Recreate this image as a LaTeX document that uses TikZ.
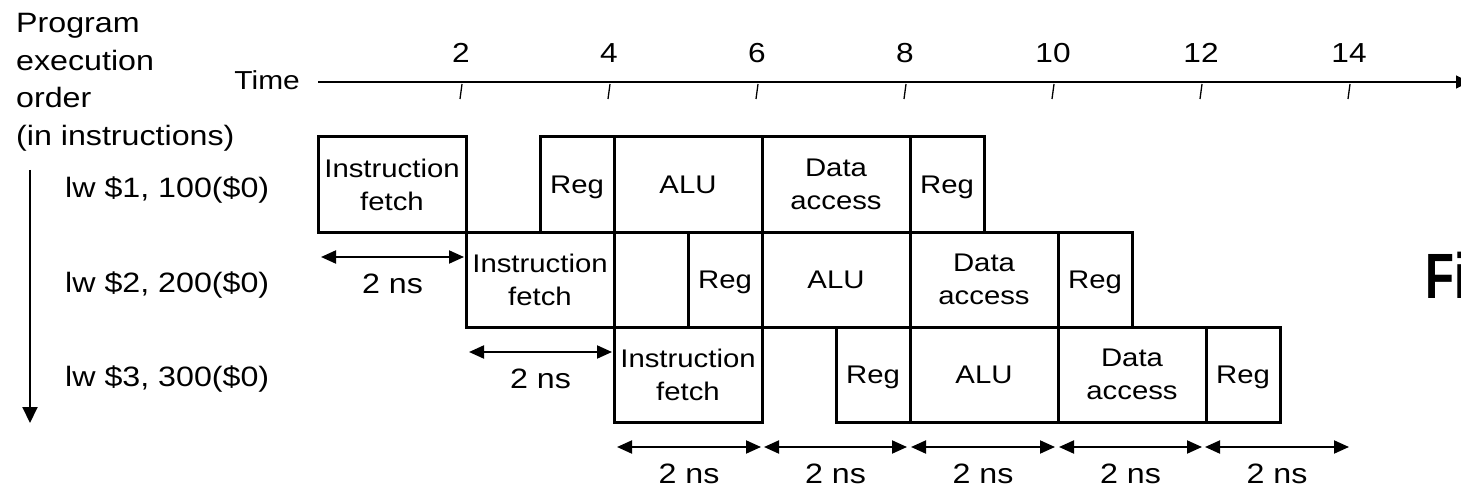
\documentclass[tikz,border=0pt]{standalone}
\usepackage{fontspec}
\setmainfont{Liberation Sans}[FakeStretch=1.15]
\newfontfamily\capfont{Liberation Sans}[FakeStretch=0.74]
\usetikzlibrary{arrows.meta,calc}

\begin{document}
\begin{tikzpicture}[x=1pt,y=-1pt,
  stagebox/.style={draw, line width=3pt, minimum height=95pt, inner sep=0pt,
    outer sep=0pt, anchor=north west, align=center, text depth=0pt,
    font=\fontsize{25.5}{33}\selectfont},
  label/.style={inner sep=0pt, font=\fontsize{28}{37.7}\selectfont},
  ticklabel/.style={inner sep=0pt, anchor=base, font=\fontsize{27.5}{30}\selectfont},
  dimarrow/.style={line width=2pt, {Triangle[length=15pt,width=13pt]}-{Triangle[length=15pt,width=13pt]}},
  nslabel/.style={midway, anchor=base, yshift=-36pt, inner sep=0pt,
    font=\fontsize{28}{32}\selectfont}]

\useasboundingbox (0,0) rectangle (1461,489);
\clip (0,0) rectangle (1461,489);

% Left-hand legend and instruction order
\node[label, anchor=north west, align=left] (order) at (16,13)
  {Program\\execution\\order\\(in instructions)};
\node[label, anchor=base west] (ins1) at (65,197) {lw \$1, 100(\$0)};
\node[label, anchor=base west] (ins2) at (65,292) {lw \$2, 200(\$0)};
\node[label, anchor=base west] (ins3) at (65,386) {lw \$3, 300(\$0)};
\coordinate (ordtop) at (30,170);
\coordinate (ordbot) at (30,423);
\draw[line width=2pt, -{Triangle[length=16pt,width=15pt]}] (ordtop) -- (ordbot);

% Time axis
\node[inner sep=0pt, anchor=base east, font=\fontsize{26}{30}\selectfont] (time) at (300,90) {Time};
\coordinate (t0) at (318,82);
\coordinate (tend) at (1469,82);
\draw[line width=1.5pt, -{Triangle[length=13pt,width=13pt]}] (t0) -- (tend);
\foreach \t in {2,4,...,14}{
  \pgfmathsetmacro{\tx}{313+74*\t}
  \coordinate (tick\t) at (\tx,84);
  \draw[line width=1.3pt] ($(tick\t)+(1,0)$) -- ($(tick\t)+(-1,15)$);
  \node[ticklabel] (tl\t) at (\tx,63) {\t};
}

% Pipeline stages, one row per instruction
\foreach \r/\x/\y in {1/318/137, 2/466/232, 3/614/327}{
  \node[stagebox, minimum width=148pt] (if\r) at (\x,\y) {Instruction\\fetch};
  \node[stagebox, minimum width=74pt] (rr\r) at (\x+222,\y) {Reg};
  \node[stagebox, minimum width=148pt] (alu\r) at (\x+296,\y) {ALU};
  \node[stagebox, minimum width=148pt] (da\r) at (\x+444,\y) {Data\\access};
  \node[stagebox, minimum width=74pt] (rw\r) at (\x+592,\y) {Reg};
}

% Stage duration markers
\coordinate (d1a) at ($(if1.south west)+(3,25)$);
\coordinate (d1b) at ($(if1.south east)+(-2,25)$);
\draw[dimarrow] (d1a) -- node[nslabel] {2 ns} (d1b);
\coordinate (d2a) at ($(if2.south west)+(3,25)$);
\coordinate (d2b) at ($(if2.south east)+(-2,25)$);
\draw[dimarrow] (d2a) -- node[nslabel] {2 ns} (d2b);
\foreach \k/\a/\b in {1/617/761, 2/764/907, 3/911/1055, 4/1059/1202, 5/1205/1349}{
  \coordinate (b\k a) at (\a,447);
  \coordinate (b\k b) at (\b,447);
  \draw[dimarrow] (b\k a) -- node[nslabel] {2 ns} (b\k b);
}

% Caption fragment at the right edge
\node[inner sep=0pt, anchor=base west, font=\capfont\fontsize{64}{66}\selectfont\bfseries] (cap) at (1425,298) {Fi};
\end{tikzpicture}
\end{document}
